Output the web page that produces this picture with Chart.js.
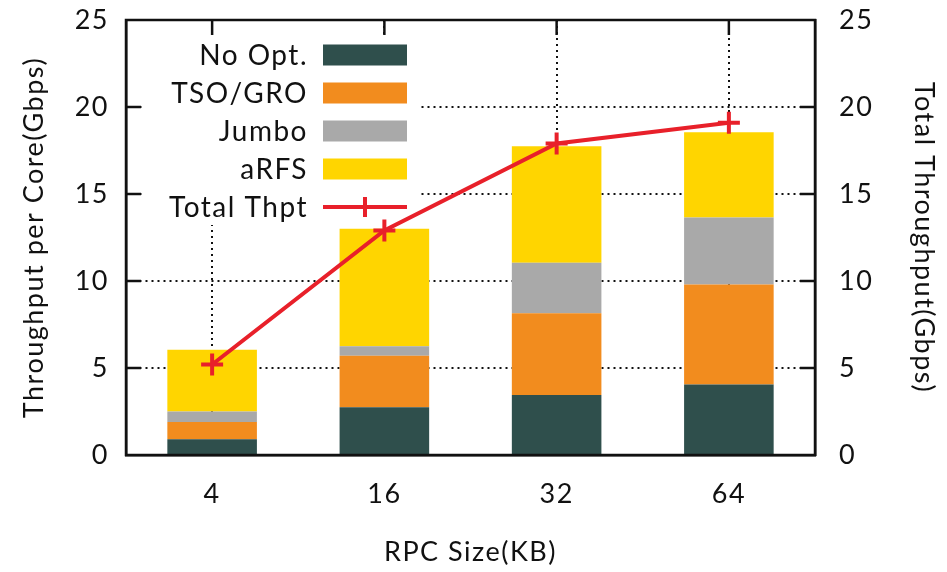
<!DOCTYPE html>
<html>
<head>
<meta charset="utf-8">
<script src="https://cdn.jsdelivr.net/npm/chart.js@4.4.1/dist/chart.umd.min.js"></script>
<style>
  html, body { margin: 0; padding: 0; background: #fff; }
  #wrap { width: 947px; height: 572px; position: relative; }
</style>
</head>
<body>
<div id="wrap"><canvas id="c" width="947" height="572"></canvas></div>
<script>
// RPC sizes (KB)
const rpcSizes = ['4', '16', '32', '64'];
// Per-core throughput gained by each optimisation step (Gbps), stacked
const noOpt   = [0.9, 2.75, 3.45, 4.05];
const tsoGro  = [1.0, 2.95, 4.7, 5.75];
const jumbo   = [0.6, 0.55, 2.9, 3.85];
const aRFS    = [3.55, 6.75, 6.7, 4.9];
// Total throughput (Gbps)
const totalThpt = [5.2, 12.9, 17.9, 19.1];
// Axis ticks
const yTicks = [0, 5, 10, 15, 20, 25];

const FONT = 'Lato, "DejaVu Sans", sans-serif';
const INK = '#111';

const colors = {
  noOpt: '#2f4f4c',
  tso: '#f28c1e',
  jumbo: '#a9a9a9',
  arfs: '#ffd500',
  total: '#e8202a'
};

function seg(ctx, x1, y1, x2, y2) {
  ctx.beginPath(); ctx.moveTo(x1, y1); ctx.lineTo(x2, y2); ctx.stroke();
}

// Slightly wider text tracking for all labels
const tracking = {
  id: 'tracking',
  beforeDraw(chart) { chart.ctx.letterSpacing = '1.5px'; }
};

// Inward tick marks, in-plot key and the box around the plot
const frameAndKey = {
  id: 'frameAndKey',
  beforeDatasetsDraw(chart) {
    const { ctx, chartArea: a, scales } = chart;
    ctx.save();
    ctx.strokeStyle = INK;
    ctx.lineWidth = 2.5;
    const tl = 15;
    yTicks.forEach(v => {
      if (v <= yTicks[0] || v >= yTicks[yTicks.length - 1]) return;
      const py = scales.y.getPixelForValue(v);
      seg(ctx, a.left, py, a.left + tl, py);
      seg(ctx, a.right, py, a.right - tl, py);
    });
    rpcSizes.forEach((_, i) => {
      const px = scales.x.getPixelForTick(i);
      seg(ctx, px, a.top, px, a.top + tl);
      seg(ctx, px, a.bottom, px, a.bottom - tl);
    });

    // key
    ctx.fillStyle = '#fff';
    ctx.fillRect(a.left + 19, a.top + 16, 273, 189);
    const sx = a.left + 197, sw = 84, sh = 21, step = 38;
    ctx.font = '28px ' + FONT;
    ctx.letterSpacing = '1.5px';
    ctx.textAlign = 'right';
    ctx.textBaseline = 'middle';
    chart.data.datasets.forEach((ds, i) => {
      const cy = a.top + 35 + i * step;
      ctx.fillStyle = INK;
      ctx.fillText(ds.label, sx - 15, cy + 1);
      if (ds.type === 'line') {
        ctx.strokeStyle = ds.borderColor;
        ctx.lineWidth = 4;
        seg(ctx, sx, cy, sx + sw, cy);
        seg(ctx, sx + sw / 2, cy - 10, sx + sw / 2, cy + 10);
      } else {
        ctx.fillStyle = ds.backgroundColor;
        ctx.fillRect(sx, cy - sh / 2, sw, sh);
      }
    });
    ctx.restore();
  },
  afterDraw(chart) {
    const { ctx, chartArea: a } = chart;
    ctx.save();
    ctx.strokeStyle = INK;
    ctx.lineWidth = 2.5;
    ctx.strokeRect(a.left, a.top, a.right - a.left, a.bottom - a.top);
    ctx.restore();
  }
};

const barDs = (label, data, color) => ({
  type: 'bar', label, data, backgroundColor: color, borderWidth: 0,
  yAxisID: 'y', stack: 'core', order: 1,
  barPercentage: 0.52, categoryPercentage: 1.0
});

const tickFont = { family: FONT, size: 27 };
const titleFont = { family: FONT, size: 27 };

// fixed axis box sizes
function fitY(width) {
  return s => { s.width = width; s.paddingTop = 0; s.paddingBottom = 0; };
}

new Chart(document.getElementById('c'), {
  data: {
    labels: rpcSizes,
    datasets: [
      barDs('No Opt.', noOpt, colors.noOpt),
      barDs('TSO/GRO', tsoGro, colors.tso),
      barDs('Jumbo', jumbo, colors.jumbo),
      barDs('aRFS', aRFS, colors.arfs),
      {
        type: 'line', label: 'Total Thpt', data: totalThpt, yAxisID: 'y2', order: 0,
        borderColor: colors.total, backgroundColor: colors.total, borderWidth: 4,
        pointStyle: 'cross', pointRadius: 11, pointBorderWidth: 4,
        pointBorderColor: colors.total, tension: 0
      }
    ]
  },
  options: {
    responsive: false,
    animation: false,
    events: [],
    layout: { padding: { top: 20, right: 0, left: 0, bottom: 0 } },
    plugins: { legend: { display: false }, tooltip: { enabled: false } },
    scales: {
      x: {
        offset: true,
        grid: { offset: false, color: INK, lineWidth: 2, drawTicks: false },
        border: { display: true, color: INK, width: 2.5, dash: [2, 4] },
        ticks: { color: INK, font: tickFont, padding: 23 },
        title: { display: true, text: 'RPC Size(KB)', color: INK,
                 font: titleFont, padding: { top: 8 } },
        afterFit(s) { s.height = 117; s.paddingLeft = 0; s.paddingRight = 0; }
      },
      y: {
        position: 'left', stacked: true, min: 0, max: 25,
        afterBuildTicks(s) { s.ticks = yTicks.map(v => ({ value: v })); },
        grid: { color: INK, lineWidth: 2, drawTicks: false },
        border: { display: true, color: INK, width: 2.5, dash: [2, 4] },
        ticks: { color: INK, font: tickFont, padding: 17 },
        title: { display: true, text: 'Throughput per Core(Gbps)', color: INK,
                 font: titleFont, padding: { top: 18 } },
        afterFit: fitY(126)
      },
      y2: {
        position: 'right', min: 0, max: 25,
        afterBuildTicks(s) { s.ticks = yTicks.map(v => ({ value: v })); },
        grid: { display: false, drawTicks: false },
        border: { display: true, color: INK, width: 2.5 },
        ticks: { color: INK, font: tickFont, padding: 24 },
        title: { display: true, text: 'Total Throughput(Gbps)', color: INK,
                 font: titleFont, padding: { top: 7 } },
        afterFit: fitY(132)
      }
    }
  },
  plugins: [tracking, frameAndKey]
});
</script>
</body>
</html>
